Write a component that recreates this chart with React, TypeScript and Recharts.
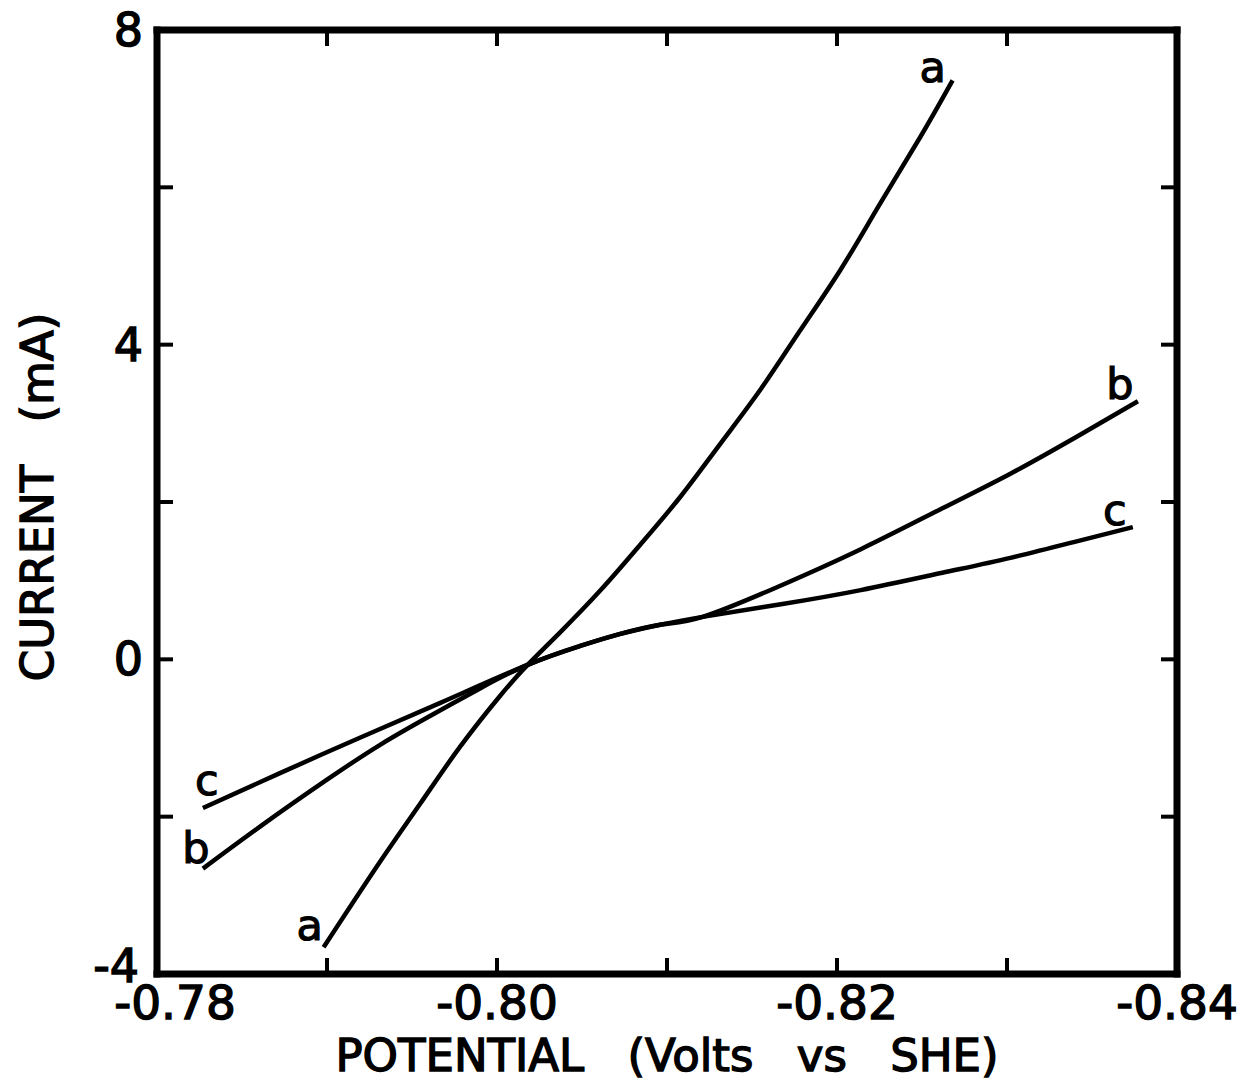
import React from 'react';
import { LineChart, Line, XAxis, YAxis } from 'recharts';

// curve a
const aPotential = [-0.7898, -0.7931, -0.7955, -0.7978, -0.8002, -0.8018, -0.8037, -0.8061, -0.8084, -0.8108, -0.8131, -0.8155, -0.8178, -0.8202, -0.8225, -0.8249, -0.8268];
const aCurrent = [-3.66, -2.58, -1.83, -1.12, -0.46, -0.07, 0.34, 0.88, 1.45, 2.07, 2.73, 3.43, 4.17, 4.95, 5.78, 6.64, 7.36];

// curve b
const bPotential = [-0.7827, -0.7861, -0.79, -0.7931, -0.7959, -0.799, -0.8018, -0.8049, -0.8072, -0.8096, -0.8121, -0.8165, -0.8214, -0.8262, -0.8302, -0.8341, -0.8377];
const bCurrent = [-2.66, -2.12, -1.53, -1.09, -0.74, -0.37, -0.07, 0.17, 0.32, 0.44, 0.54, 0.92, 1.4, 1.92, 2.36, 2.83, 3.28];

// curve c
const cPotential = [-0.7827, -0.7872, -0.7919, -0.7967, -0.8018, -0.8049, -0.8072, -0.8096, -0.8121, -0.8167, -0.8214, -0.8262, -0.8302, -0.8341, -0.8374];
const cCurrent = [-1.89, -1.45, -1.0, -0.55, -0.07, 0.17, 0.32, 0.44, 0.54, 0.7, 0.88, 1.1, 1.29, 1.5, 1.68];

const xTicks = [-0.78, -0.79, -0.8, -0.81, -0.82, -0.83, -0.84];
const xLabelled = [-0.78, -0.8, -0.82, -0.84];
const yTicks = [-4, -2, 0, 2, 4, 6, 8];
const yLabelled = [-4, 0, 4, 8];

const FONT = '"DejaVu Sans", sans-serif';
const INK = '#000';

const zip = (xs: number[], ys: number[]) => xs.map((x, i) => ({ x, y: ys[i] }));

const dataA = zip(aPotential, aCurrent);
const dataB = zip(bPotential, bCurrent);
const dataC = zip(cPotential, cCurrent);

const frame = { stroke: INK, strokeWidth: 7, strokeLinecap: 'square' as const };

const BottomTick = ({ x, y, payload }: any) => {
  const v = payload.value;
  const show = xLabelled.some((t) => Math.abs(t - v) < 1e-6);
  const shift = Math.abs(v + 0.78) < 1e-6 ? 18 : 0;
  return (
    <g>
      <line x1={x} y1={y} x2={x} y2={y - 16} stroke={INK} strokeWidth={4} />
      {show && (
        <text x={x + shift} y={y + 45} textAnchor="middle" fontFamily={FONT} fontSize={47} fill={INK} stroke={INK} strokeWidth={1.4}>
          {v.toFixed(2)}
        </text>
      )}
    </g>
  );
};

const TopTick = ({ x, y }: any) => (
  <line x1={x} y1={y} x2={x} y2={y + 16} stroke={INK} strokeWidth={4} />
);

const LeftTick = ({ x, y, payload }: any) => {
  const v = payload.value;
  const show = yLabelled.includes(v);
  return (
    <g>
      <line x1={x} y1={y} x2={x + 16} y2={y} stroke={INK} strokeWidth={4} />
      {show && (
        <text x={x - (v === -4 ? 18 : 14)} y={y + (v === -4 ? 8 : 16)} textAnchor="end" fontFamily={FONT} fontSize={46} fill={INK} stroke={INK} strokeWidth={1.4}>
          {v < 0 ? `-${Math.abs(v)}` : v}
        </text>
      )}
    </g>
  );
};

const RightTick = ({ x, y }: any) => (
  <line x1={x} y1={y} x2={x - 16} y2={y} stroke={INK} strokeWidth={4} />
);

// letter at both ends of a curve
const endLabels = (name: string, count: number, first: [number, number], last: [number, number]) => (props: any) => {
  const { x, y, index } = props;
  let off: [number, number] | null = null;
  if (index === 0) off = first;
  else if (index === count - 1) off = last;
  if (!off || x == null || y == null) return null;
  return (
    <text key={`${name}-${index}`} x={x + off[0]} y={y + off[1]} textAnchor="middle" fontFamily={FONT} fontSize={43} fill={INK} stroke={INK} strokeWidth={1.2}>
      {name}
    </text>
  );
};

const XTitle = ({ viewBox }: any) => (
  <text x={viewBox.x + viewBox.width / 2} y={viewBox.y + 97} textAnchor="middle" fontFamily={FONT} fontSize={45} fill={INK} stroke={INK} strokeWidth={1.4} wordSpacing={29}>
    POTENTIAL (Volts vs SHE)
  </text>
);

const YTitle = ({ viewBox }: any) => {
  const cx = 53;
  const cy = viewBox.y + viewBox.height / 2 - 5;
  return (
    <text x={cx} y={cy} transform={`rotate(-90 ${cx} ${cy})`} textAnchor="middle" fontFamily={FONT} fontSize={45} fill={INK} stroke={INK} strokeWidth={1.4} wordSpacing={28}>
      CURRENT (mA)
    </text>
  );
};

const App: React.FC = () => {
  return (
    <div style={{ position: 'absolute', left: 0, top: 0, background: '#fff' }}>
      <LineChart width={1246} height={1082} margin={{ top: 0, right: 0, bottom: 0, left: 0 }}>
        <XAxis
          xAxisId="bottom"
          type="number"
          dataKey="x"
          orientation="bottom"
          domain={[-0.84, -0.78]}
          allowDataOverflow
          reversed
          ticks={xTicks}
          interval={0}
          height={108}
          tickSize={0}
          tickMargin={0}
          tickLine={false}
          axisLine={frame}
          tick={<BottomTick />}
          label={<XTitle />}
        />
        <XAxis
          xAxisId="top"
          type="number"
          dataKey="x"
          orientation="top"
          domain={[-0.84, -0.78]}
          allowDataOverflow
          reversed
          ticks={xTicks}
          interval={0}
          height={30}
          tickSize={0}
          tickMargin={0}
          tickLine={false}
          axisLine={frame}
          tick={<TopTick />}
        />
        <YAxis
          yAxisId="left"
          type="number"
          orientation="left"
          domain={[-4, 8]}
          allowDataOverflow
          ticks={yTicks}
          interval={0}
          width={157}
          tickSize={0}
          tickMargin={0}
          tickLine={false}
          axisLine={frame}
          tick={<LeftTick />}
          label={<YTitle />}
        />
        <YAxis
          yAxisId="right"
          type="number"
          orientation="right"
          domain={[-4, 8]}
          allowDataOverflow
          ticks={yTicks}
          interval={0}
          width={69}
          tickSize={0}
          tickMargin={0}
          tickLine={false}
          axisLine={frame}
          tick={<RightTick />}
        />
        <Line
          xAxisId="bottom"
          yAxisId="left"
          data={dataA}
          dataKey="y"
          type="natural"
          stroke={INK}
          strokeWidth={4.5}
          dot={false}
          activeDot={false}
          isAnimationActive={false}
          label={endLabels('a', dataA.length, [-14, -7], [-20, 2])}
        />
        <Line
          xAxisId="bottom"
          yAxisId="left"
          data={dataB}
          dataKey="y"
          type="natural"
          stroke={INK}
          strokeWidth={4.5}
          dot={false}
          activeDot={false}
          isAnimationActive={false}
          label={endLabels('b', dataB.length, [-7, -6], [-18, -2])}
        />
        <Line
          xAxisId="bottom"
          yAxisId="left"
          data={dataC}
          dataKey="y"
          type="natural"
          stroke={INK}
          strokeWidth={4.5}
          dot={false}
          activeDot={false}
          isAnimationActive={false}
          label={endLabels('c', dataC.length, [4, -13], [-18, -2])}
        />
      </LineChart>
    </div>
  );
};

export default App;
